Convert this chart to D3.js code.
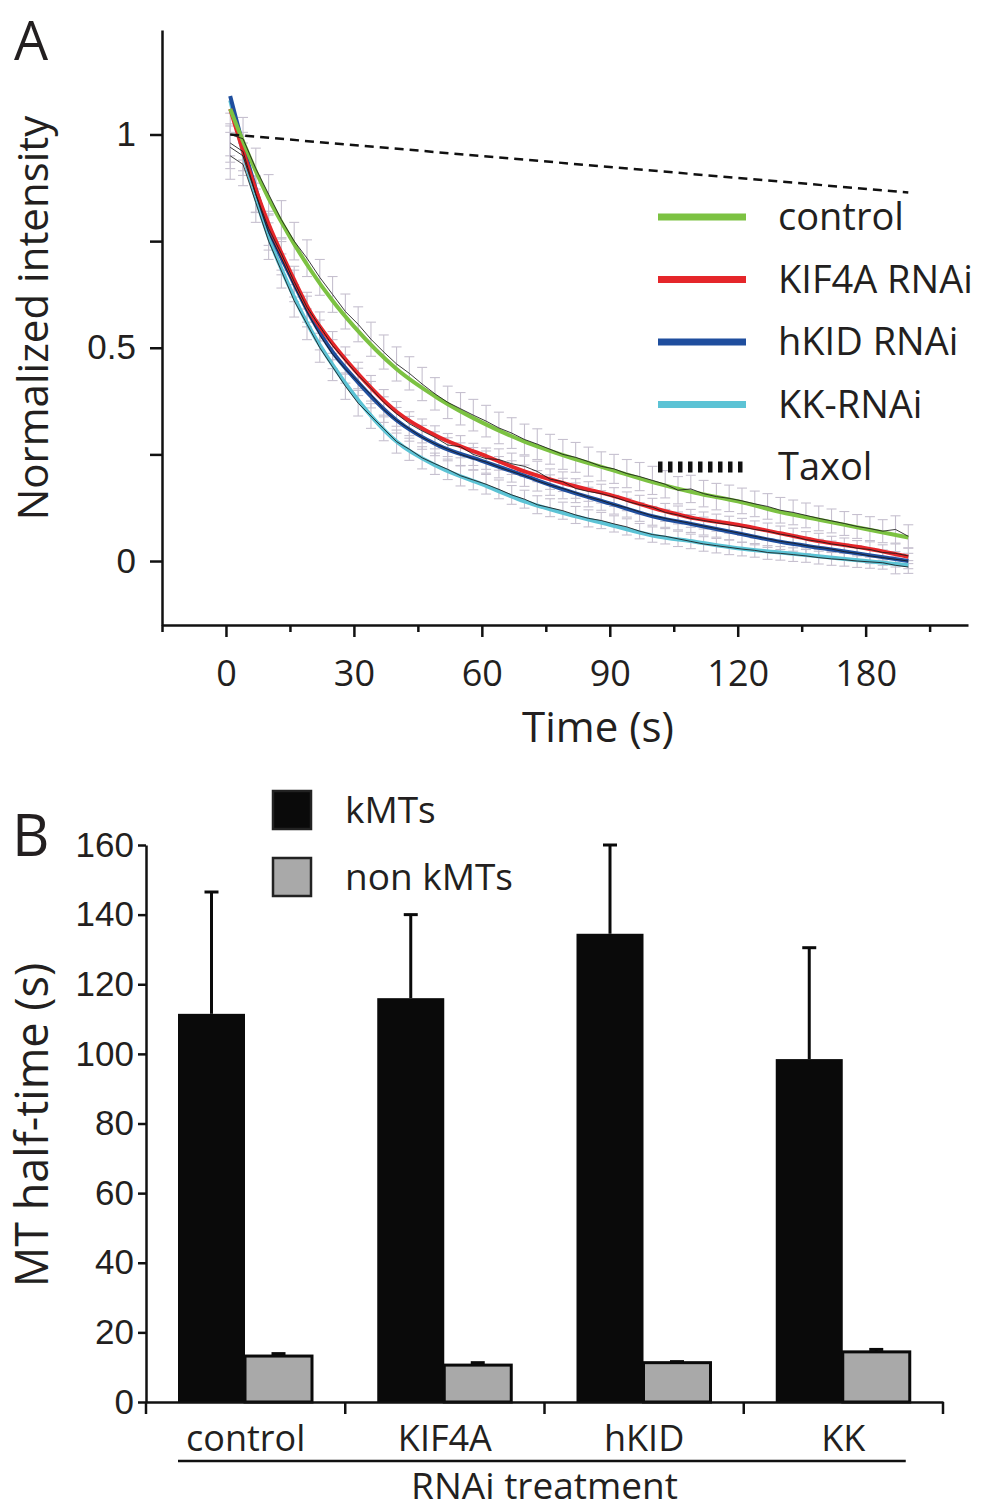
<!DOCTYPE html>
<html>
<head>
<meta charset="utf-8">
<title>MT half-time</title>
<script src="https://d3js.org/d3.v7.min.js"></script>
<style>
  body { margin: 0; background: #fff; }
  svg { display: block; }
</style>
</head>
<body>
<svg id="chart"></svg>
<script>
// ---- panel A data ----
var seriesNames = ['control', 'KIF4A RNAi', 'hKID RNAi', 'KK-RNAi'];
var seriesColors = ['#7cc242', '#e5262a', '#1f4e9e', '#5cc3d5'];

var fitTime = [1, 5, 10, 15, 20, 25, 30, 40, 50, 60, 70, 80, 90, 100, 110, 120, 130, 140, 150, 160];
var fitControl = [1.06, 0.96, 0.85, 0.76, 0.68, 0.61, 0.55, 0.45, 0.38, 0.325, 0.28, 0.245, 0.215, 0.185, 0.16, 0.14, 0.115, 0.095, 0.075, 0.055];
var fitKif4a = [1.06, 0.93, 0.79, 0.68, 0.58, 0.51, 0.45, 0.35, 0.29, 0.25, 0.21, 0.18, 0.155, 0.125, 0.10, 0.085, 0.065, 0.045, 0.03, 0.01];
var fitHkid = [1.09, 0.94, 0.78, 0.67, 0.57, 0.49, 0.43, 0.33, 0.27, 0.235, 0.2, 0.165, 0.135, 0.105, 0.085, 0.065, 0.045, 0.03, 0.015, 0.0];
var fitKK = [1.08, 0.92, 0.76, 0.64, 0.54, 0.46, 0.39, 0.28, 0.22, 0.18, 0.14, 0.11, 0.085, 0.06, 0.045, 0.03, 0.02, 0.01, 0.0, -0.01];

var rawTime = [1, 4, 7, 10, 13, 16, 19, 22, 25, 28,
  31, 34, 37, 40, 43, 46, 49, 52, 55, 58,
  61, 64, 67, 70, 73, 76, 79, 82, 85, 88,
  91, 94, 97, 100, 103, 106, 109, 112, 115, 118,
  121, 124, 127, 130, 133, 136, 139, 142, 145, 148,
  151, 154, 157, 160];
var rawControl = [1.00, 0.99, 0.92, 0.86, 0.80, 0.75, 0.71, 0.665, 0.625, 0.585,
  0.555, 0.52, 0.49, 0.462, 0.44, 0.415, 0.392, 0.372, 0.357, 0.342,
  0.328, 0.312, 0.30, 0.285, 0.274, 0.262, 0.25, 0.243, 0.233, 0.222,
  0.216, 0.205, 0.198, 0.189, 0.18, 0.166, 0.169, 0.158, 0.151, 0.147,
  0.141, 0.134, 0.128, 0.119, 0.114, 0.107, 0.1, 0.094, 0.088, 0.081,
  0.076, 0.07, 0.074, 0.058];
var rawKif4a = [0.98, 0.96, 0.86, 0.78, 0.72, 0.655, 0.595, 0.55, 0.505, 0.47,
  0.435, 0.405, 0.372, 0.345, 0.322, 0.305, 0.29, 0.272, 0.268, 0.25,
  0.24, 0.238, 0.228, 0.222, 0.21, 0.192, 0.186, 0.17, 0.163, 0.158,
  0.15, 0.14, 0.132, 0.126, 0.114, 0.108, 0.1, 0.095, 0.09, 0.085,
  0.08, 0.074, 0.07, 0.063, 0.058, 0.05, 0.046, 0.04, 0.036, 0.03,
  0.027, 0.02, 0.018, 0.012];
var rawHkid = [0.97, 0.95, 0.86, 0.77, 0.71, 0.645, 0.585, 0.53, 0.485, 0.45,
  0.42, 0.39, 0.355, 0.33, 0.31, 0.29, 0.275, 0.262, 0.25, 0.24,
  0.232, 0.22, 0.21, 0.2, 0.188, 0.178, 0.17, 0.16, 0.15, 0.142,
  0.132, 0.125, 0.115, 0.106, 0.1, 0.094, 0.088, 0.082, 0.076, 0.07,
  0.064, 0.058, 0.052, 0.046, 0.042, 0.036, 0.032, 0.028, 0.022, 0.018,
  0.012, 0.008, 0.004, 0.0];
var rawKK = [0.95, 0.93, 0.84, 0.75, 0.68, 0.61, 0.555, 0.5, 0.455, 0.41,
  0.37, 0.34, 0.31, 0.28, 0.262, 0.242, 0.228, 0.215, 0.2, 0.19,
  0.18, 0.168, 0.155, 0.145, 0.132, 0.125, 0.118, 0.108, 0.1, 0.095,
  0.087, 0.08, 0.07, 0.062, 0.058, 0.052, 0.046, 0.04, 0.036, 0.032,
  0.028, 0.025, 0.02, 0.018, 0.015, 0.012, 0.008, 0.005, 0.003, 0.0,
  -0.002, -0.004, -0.01, -0.014];

var errControl = [0.05, 0.05, 0.048, 0.046, 0.045, 0.044, 0.043, 0.042, 0.042, 0.041,
  0.041, 0.040, 0.040, 0.040, 0.039, 0.039, 0.038, 0.038, 0.038, 0.037,
  0.037, 0.037, 0.036, 0.036, 0.036, 0.035, 0.035, 0.035, 0.034, 0.034,
  0.034, 0.033, 0.033, 0.033, 0.032, 0.032, 0.032, 0.031, 0.031, 0.031,
  0.030, 0.030, 0.030, 0.030, 0.029, 0.029, 0.029, 0.028, 0.028, 0.028,
  0.028, 0.027, 0.032, 0.027];
var errKif4a = [0.045, 0.045, 0.042, 0.04, 0.038, 0.036, 0.035, 0.034, 0.033, 0.032,
  0.031, 0.030, 0.030, 0.029, 0.028, 0.028, 0.027, 0.027, 0.026, 0.026,
  0.025, 0.025, 0.025, 0.024, 0.024, 0.024, 0.023, 0.023, 0.023, 0.022,
  0.022, 0.022, 0.022, 0.021, 0.021, 0.021, 0.021, 0.020, 0.020, 0.020,
  0.020, 0.020, 0.019, 0.019, 0.019, 0.019, 0.019, 0.018, 0.018, 0.018,
  0.018, 0.018, 0.022, 0.018];
var errHkid = [0.05, 0.046, 0.043, 0.041, 0.039, 0.037, 0.036, 0.035, 0.034, 0.033,
  0.032, 0.031, 0.030, 0.030, 0.029, 0.028, 0.028, 0.027, 0.027, 0.026,
  0.026, 0.025, 0.025, 0.025, 0.024, 0.024, 0.024, 0.023, 0.023, 0.023,
  0.022, 0.022, 0.022, 0.022, 0.021, 0.021, 0.021, 0.021, 0.020, 0.020,
  0.020, 0.020, 0.020, 0.019, 0.019, 0.019, 0.019, 0.019, 0.018, 0.018,
  0.018, 0.018, 0.018, 0.018];
var errKK = [0.055, 0.05, 0.046, 0.043, 0.04, 0.038, 0.036, 0.034, 0.032, 0.031,
  0.030, 0.029, 0.028, 0.027, 0.026, 0.026, 0.025, 0.024, 0.024, 0.023,
  0.023, 0.022, 0.022, 0.021, 0.021, 0.021, 0.020, 0.020, 0.020, 0.019,
  0.019, 0.019, 0.018, 0.018, 0.018, 0.018, 0.017, 0.017, 0.017, 0.017,
  0.016, 0.016, 0.016, 0.016, 0.016, 0.015, 0.015, 0.015, 0.015, 0.015,
  0.015, 0.015, 0.02, 0.015];

var taxolTime = [1, 160];
var taxolValue = [1.0, 0.864];

var xTicks = [0, 30, 60, 90, 120, 150];
var xTickLabels = ['0', '30', '60', '90', '120', '180'];
var xMinorTicks = [-15, 15, 45, 75, 105, 135, 165];
var yTicks = [0, 0.5, 1];
var yTickLabels = ['0', '0.5', '1'];
var yMinorTicks = [0.25, 0.75];

// ---- panel B data ----
var treatments = ['control', 'KIF4A', 'hKID', 'KK'];
var barGroups = ['kMTs', 'non kMTs'];
var barColors = ['#0a0a0a', '#a9a9a9'];
var kmtHalfTime = [111.5, 116, 134.5, 98.5];
var kmtError = [35, 24, 25.5, 32];
var nonKmtHalfTime = [13.2, 10.6, 11.3, 14.4];
var nonKmtError = [0.7, 0.7, 0.3, 0.7];
var bTicks = [0, 20, 40, 60, 80, 100, 120, 140, 160];

var MYRIAD = "'Open Sans', 'DejaVu Sans', sans-serif";
var ARIAL = "'Liberation Sans', Arial, sans-serif";
var INK = '#231f20';

var width = 981;
var height = 1511;

var svg = d3.select('#chart')
  .attr('width', width)
  .attr('height', height);

// ================= panel A =================
var xA = d3.scaleLinear().domain([-15, 174]).range([162, 968]);
var yA = d3.scaleLinear().domain([-0.15, 1.245]).range([625, 30]);

var panelA = svg.append('g');

var fits = [fitControl, fitKif4a, fitHkid, fitKK];
var raws = [rawControl, rawKif4a, rawHkid, rawKK];
var errs = [errControl, errKif4a, errHkid, errKK];

// error bars
var errG = panelA.append('g');
errs.forEach(function(err, s) {
  var pts = rawTime.map(function(t, i) {
    return { t: t, v: raws[s][i], e: err[i] };
  });
  var g = errG.append('g')
    .attr('stroke', '#c6c0cf')
    .attr('stroke-width', 1.1);
  var bar = g.selectAll('g').data(pts).enter().append('g');
  bar.append('line')
    .attr('x1', function(d) { return xA(d.t); })
    .attr('x2', function(d) { return xA(d.t); })
    .attr('y1', function(d) { return yA(d.v - d.e); })
    .attr('y2', function(d) { return yA(d.v + d.e); });
  bar.append('line')
    .attr('x1', function(d) { return xA(d.t) - 5; })
    .attr('x2', function(d) { return xA(d.t) + 5; })
    .attr('y1', function(d) { return yA(d.v + d.e); })
    .attr('y2', function(d) { return yA(d.v + d.e); });
  bar.append('line')
    .attr('x1', function(d) { return xA(d.t) - 5; })
    .attr('x2', function(d) { return xA(d.t) + 5; })
    .attr('y1', function(d) { return yA(d.v - d.e); })
    .attr('y2', function(d) { return yA(d.v - d.e); });
});

// fitted curves, drawn back to front
var fitLine = d3.line()
  .x(function(d) { return xA(d[0]); })
  .y(function(d) { return yA(d[1]); })
  .curve(d3.curveMonotoneX);

[3, 2, 1, 0].forEach(function(s) {
  panelA.append('path')
    .datum(fitTime.map(function(t, i) { return [t, fits[s][i]]; }))
    .attr('d', fitLine)
    .attr('fill', 'none')
    .attr('stroke', seriesColors[s])
    .attr('stroke-width', 4);
});

// raw traces
var rawLine = d3.line()
  .x(function(d) { return xA(d[0]); })
  .y(function(d) { return yA(d[1]); });

raws.forEach(function(raw) {
  panelA.append('path')
    .datum(rawTime.map(function(t, i) { return [t, raw[i]]; }))
    .attr('d', rawLine)
    .attr('fill', 'none')
    .attr('stroke', '#1a1a1a')
    .attr('stroke-width', 1)
    .attr('opacity', 0.85);
});

// taxol
panelA.append('path')
  .datum(taxolTime.map(function(t, i) { return [t, taxolValue[i]]; }))
  .attr('d', rawLine)
  .attr('fill', 'none')
  .attr('stroke', '#111')
  .attr('stroke-width', 2.5)
  .attr('stroke-dasharray', '9,6');

// axes
var xAxisA = panelA.append('g')
  .attr('transform', 'translate(0,' + yA(-0.15) + ')')
  .call(d3.axisBottom(xA).tickValues(xTicks).tickSize(12).tickSizeOuter(0)
    .tickFormat(function(d, i) { return xTickLabels[i]; }));
xAxisA.selectAll('text')
  .attr('y', 35)
  .style('font-family', MYRIAD)
  .style('font-size', '36px')
  .attr('fill', INK);

panelA.append('g')
  .attr('transform', 'translate(0,' + yA(-0.15) + ')')
  .call(d3.axisBottom(xA).tickValues(xMinorTicks).tickSize(7).tickFormat(''))
  .select('.domain').remove();

var yAxisA = panelA.append('g')
  .attr('transform', 'translate(' + xA(-15) + ',0)')
  .call(d3.axisLeft(yA).tickValues(yTicks).tickSize(12).tickSizeOuter(0)
    .tickFormat(function(d, i) { return yTickLabels[i]; }));
yAxisA.selectAll('text')
  .attr('x', -26)
  .style('font-family', ARIAL)
  .style('font-size', '35px')
  .attr('fill', INK);

panelA.append('g')
  .attr('transform', 'translate(' + xA(-15) + ',0)')
  .call(d3.axisLeft(yA).tickValues(yMinorTicks).tickSize(12).tickFormat(''))
  .select('.domain').remove();

panelA.selectAll('.domain, .tick line')
  .attr('stroke', '#111')
  .attr('stroke-width', 2.5);

panelA.append('text')
  .attr('x', 598)
  .attr('y', 742)
  .attr('text-anchor', 'middle')
  .style('font-family', MYRIAD)
  .style('font-size', '42px')
  .attr('fill', INK)
  .text('Time (s)');

panelA.append('text')
  .attr('transform', 'rotate(-90)')
  .attr('x', -318)
  .attr('y', 48)
  .attr('text-anchor', 'middle')
  .style('font-family', MYRIAD)
  .style('font-size', '42px')
  .attr('fill', INK)
  .text('Normalized intensity');

panelA.append('text')
  .attr('x', 14)
  .attr('y', 60)
  .style('font-family', MYRIAD)
  .style('font-size', '54px')
  .attr('fill', INK)
  .text('A');

// legend A
var legendA = panelA.append('g');
var legendNames = seriesNames.concat(['Taxol']);
legendNames.forEach(function(name, i) {
  var ly = 217 + i * 62.5;
  var ln = legendA.append('line')
    .attr('x1', 658).attr('x2', 746)
    .attr('y1', ly).attr('y2', ly);
  if (i < seriesNames.length) {
    ln.attr('stroke', seriesColors[i]).attr('stroke-width', 7);
  } else {
    ln.attr('stroke', '#111').attr('stroke-width', 11).attr('stroke-dasharray', '4.5,5.5');
  }
  legendA.append('text')
    .attr('x', 778)
    .attr('y', ly)
    .attr('dy', '0.35em')
    .style('font-family', MYRIAD)
    .style('font-size', '38px')
    .attr('fill', INK)
    .text(name);
});

// ================= panel B =================
var xB = d3.scaleBand().domain(treatments).range([146, 943]);
var xSub = d3.scaleBand().domain(barGroups).range([32, 166]);
var yB = d3.scaleLinear().domain([0, 160]).range([1402, 845]);

var panelB = svg.append('g');

var barData = [];
treatments.forEach(function(t, i) {
  barData.push({ t: t, g: 'kMTs', v: kmtHalfTime[i], e: kmtError[i] });
  barData.push({ t: t, g: 'non kMTs', v: nonKmtHalfTime[i], e: nonKmtError[i] });
});

// error bars (upper only) behind bars
var eb = panelB.selectAll('g.err').data(barData).enter().append('g')
  .attr('class', 'err')
  .attr('stroke', '#0a0a0a')
  .attr('stroke-width', 3);
eb.append('line')
  .attr('x1', function(d) { return xB(d.t) + xSub(d.g) + xSub.bandwidth() / 2; })
  .attr('x2', function(d) { return xB(d.t) + xSub(d.g) + xSub.bandwidth() / 2; })
  .attr('y1', function(d) { return yB(d.v); })
  .attr('y2', function(d) { return yB(d.v + d.e); });
eb.append('line')
  .attr('x1', function(d) { return xB(d.t) + xSub(d.g) + xSub.bandwidth() / 2 - 7; })
  .attr('x2', function(d) { return xB(d.t) + xSub(d.g) + xSub.bandwidth() / 2 + 7; })
  .attr('y1', function(d) { return yB(d.v + d.e); })
  .attr('y2', function(d) { return yB(d.v + d.e); });

panelB.selectAll('rect.bar').data(barData).enter().append('rect')
  .attr('class', 'bar')
  .attr('x', function(d) { return xB(d.t) + xSub(d.g); })
  .attr('y', function(d) { return yB(d.v); })
  .attr('width', xSub.bandwidth())
  .attr('height', function(d) { return yB(0) - yB(d.v); })
  .attr('fill', function(d) { return barColors[barGroups.indexOf(d.g)]; })
  .attr('stroke', '#0a0a0a')
  .attr('stroke-width', function(d) { return d.g === 'kMTs' ? 0 : 3; });

// y axis
var yAxisB = panelB.append('g')
  .attr('transform', 'translate(' + xB.range()[0] + ',0)')
  .call(d3.axisLeft(yB).tickValues(bTicks).tickSize(8).tickSizeOuter(0));
yAxisB.selectAll('text')
  .attr('x', -12)
  .style('font-family', ARIAL)
  .style('font-size', '35px')
  .attr('fill', INK);

// x axis: category labels at band centres, ticks at band edges
var xAxisB = panelB.append('g')
  .attr('transform', 'translate(0,' + yB(0) + ')')
  .call(d3.axisBottom(xB).tickSize(0).tickSizeOuter(0));
xAxisB.selectAll('text')
  .attr('y', 23)
  .style('font-family', MYRIAD)
  .style('font-size', '36px')
  .attr('fill', INK);

var edges = treatments.map(function(t) { return xB(t); }).concat([xB.range()[1]]);
xAxisB.selectAll('line.edge').data(edges).enter().append('line')
  .attr('class', 'edge')
  .attr('x1', function(d) { return d; })
  .attr('x2', function(d) { return d; })
  .attr('y1', 0)
  .attr('y2', 12);

panelB.selectAll('.domain, .tick line, line.edge')
  .attr('stroke', '#111')
  .attr('stroke-width', 2.5);

// group underline
panelB.append('line')
  .attr('x1', xB(treatments[0]) + xSub.range()[0])
  .attr('x2', xB(treatments[treatments.length - 1]) + xSub.range()[1] - 4)
  .attr('y1', 1461).attr('y2', 1461)
  .attr('stroke', '#111')
  .attr('stroke-width', 2.5);

panelB.append('text')
  .attr('x', (xB.range()[0] + xB.range()[1]) / 2)
  .attr('y', 1499)
  .attr('text-anchor', 'middle')
  .style('font-family', MYRIAD)
  .style('font-size', '37px')
  .attr('fill', INK)
  .text('RNAi treatment');

panelB.append('text')
  .attr('transform', 'rotate(-90)')
  .attr('x', -1125)
  .attr('y', 48)
  .attr('text-anchor', 'middle')
  .style('font-family', MYRIAD)
  .style('font-size', '45px')
  .attr('fill', INK)
  .text('MT half-time (s)');

panelB.append('text')
  .attr('x', 12)
  .attr('y', 856)
  .style('font-family', MYRIAD)
  .style('font-size', '58px')
  .attr('fill', INK)
  .text('B');

// legend B
barGroups.forEach(function(name, i) {
  var ly = 791 + i * 67;
  panelB.append('rect')
    .attr('x', 273).attr('y', ly)
    .attr('width', 38).attr('height', 38)
    .attr('fill', barColors[i])
    .attr('stroke', '#222')
    .attr('stroke-width', 2.5);
  panelB.append('text')
    .attr('x', 345)
    .attr('y', ly + 19)
    .attr('dy', '0.35em')
    .style('font-family', MYRIAD)
    .style('font-size', '37px')
    .attr('fill', INK)
    .text(name);
});
</script>
</body>
</html>
